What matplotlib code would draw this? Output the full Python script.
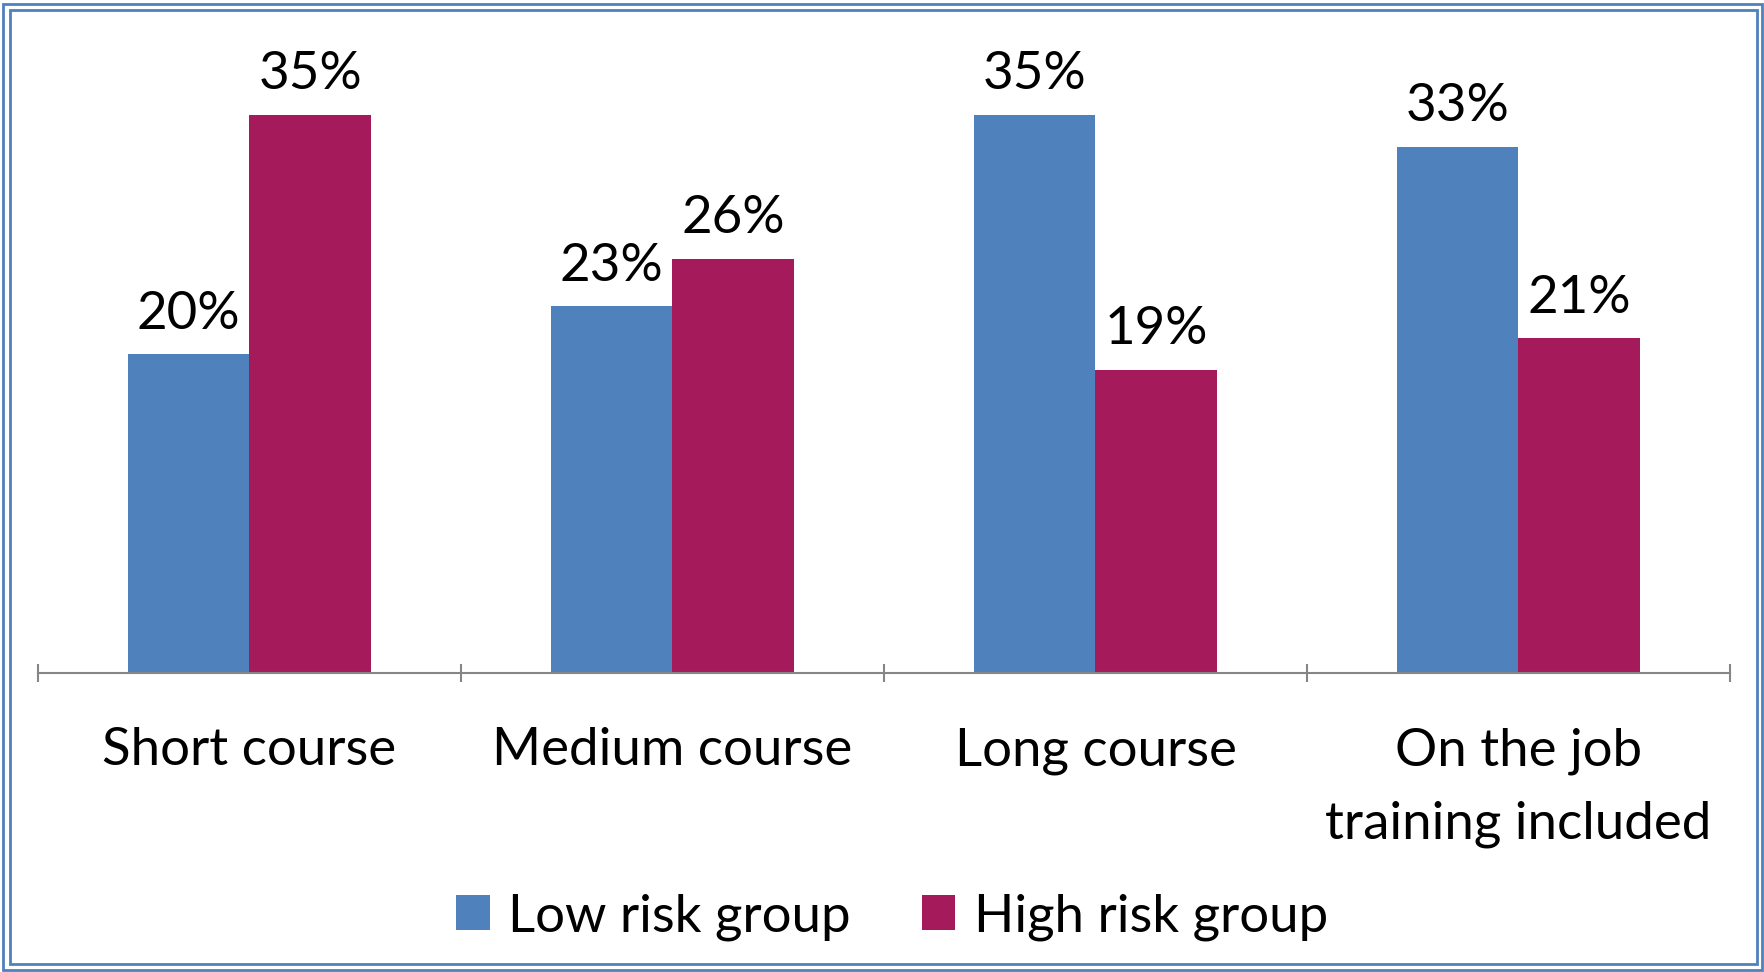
import numpy as np
import matplotlib.pyplot as plt
from matplotlib.patches import Rectangle

# Datos del gráfico
categories = ["Short course", "Medium course", "Long course", "On the job\ntraining included"]
low_risk = [0.20, 0.23, 0.35, 0.33]
high_risk = [0.35, 0.26, 0.19, 0.21]
series_names = ["Low risk group", "High risk group"]

blue = "#4F81BD"
red = "#A51A5A"
plt.rcParams['font.family'] = ['Lato', 'DejaVu Sans']

fig = plt.figure(figsize=(17.64, 9.72), dpi=100)
ax = fig.add_axes([0.0215, 0.3076, 0.9592, 0.656])

x = np.arange(len(categories))
w = 0.287
b1 = ax.bar(x - w/2, low_risk, w, color=blue, label=series_names[0])
b2 = ax.bar(x + w/2, high_risk, w, color=red, label=series_names[1])

for bars, vals in [(b1, low_risk), (b2, high_risk)]:
    for bar, v in zip(bars, vals):
        ax.annotate(f"{v*100:.0f}%", (bar.get_x() + bar.get_width()/2, v),
                    xytext=(0, 12), textcoords="offset points",
                    ha="center", va="bottom", fontsize=38)

ax.set_xlim(-0.5, len(categories) - 0.5)
ax.set_ylim(0, 0.40)
ax.set_yticks([])
for s in ["top", "right", "left"]:
    ax.spines[s].set_visible(False)
ax.spines["bottom"].set_color("#868686")
ax.spines["bottom"].set_linewidth(1.5)

# Marcas del eje en los bordes de cada categoría
ax.set_xticks(np.arange(len(categories) + 1) - 0.5)
ax.set_xticklabels([])
ax.tick_params(axis="x", which="major", length=13, width=1.5, color="#868686",
               direction="inout")
ax.set_xticks(x, minor=True)
ax.set_xticklabels(categories, minor=True, fontsize=38, linespacing=1.68)
ax.tick_params(axis="x", which="minor", length=0, pad=39)

fig.legend(loc="center", bbox_to_anchor=(0.5057, 1 - 917/972), ncol=2, frameon=False,
           fontsize=38, handlelength=0.63, handleheight=0.63, handletextpad=0.35,
           columnspacing=1.35)

# Borde doble alrededor del gráfico
W, H = 1764, 972
fig.patches.append(Rectangle((3/W, 2/H), 1 - 5/W, 1 - 6/H, transform=fig.transFigure,
                             fill=False, edgecolor=blue, linewidth=2))
fig.patches.append(Rectangle((10/W, 8/H), 1 - 17/W, 1 - 18/H, transform=fig.transFigure,
                             fill=False, edgecolor=blue, linewidth=2))

fig.savefig("out.png", dpi=100)
